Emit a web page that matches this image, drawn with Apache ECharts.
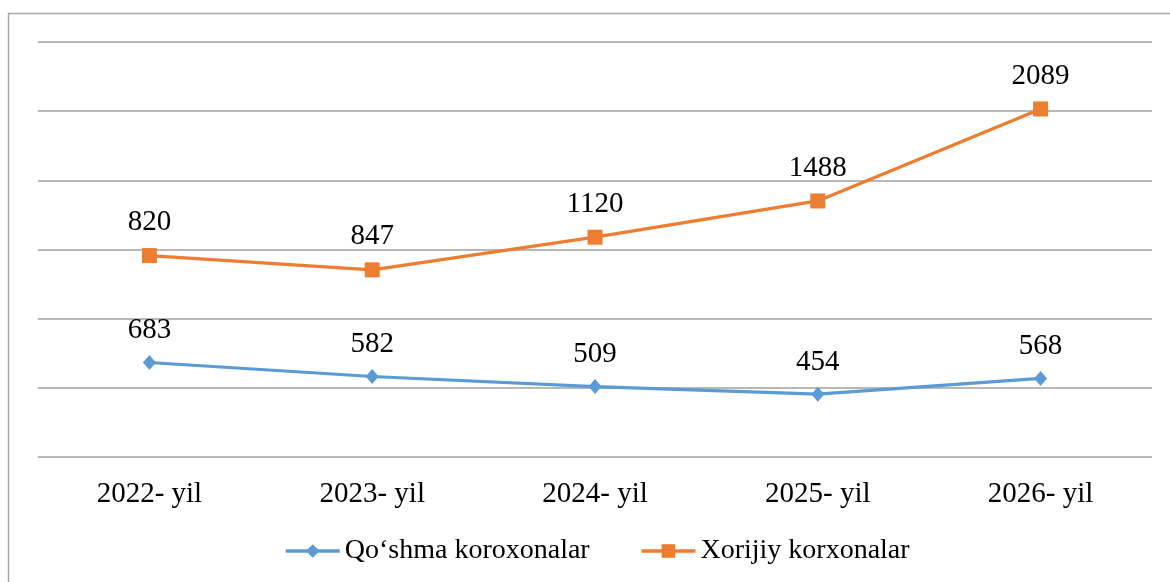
<!DOCTYPE html>
<html>
<head>
<meta charset="utf-8">
<script src="https://cdn.jsdelivr.net/npm/echarts@6/dist/echarts.min.js"></script>
<style>
html,body{margin:0;padding:0;background:#fff;}
#chart{width:1170px;height:582px;}
</style>
</head>
<body>
<div id="chart"></div>
<script>
// Categories
const categories = ['2022- yil', '2023- yil', '2024- yil', '2025- yil', '2026- yil'];
// Series 1: Qo‘shma koroxonalar (labels match plotted positions)
const qoshmaValues = [683, 582, 509, 454, 568];
// Series 2: Xorijiy korxonalar — printed labels
const xorijiyLabels = [820, 847, 1120, 1488, 2089];
const xorijiyPlotted = [1456, 1353, 1589, 1851, 2516];
// Axis range
const yMin = 0, yMax = 3000, yInterval = 500;

const font = '"Liberation Serif", "Times New Roman", serif';
const chart = echarts.init(document.getElementById('chart'));
chart.setOption({
  animation: false,
  backgroundColor: '#ffffff',
  graphic: [{
    type: 'rect',
    shape: { x: 8.5, y: 13.5, width: 1300, height: 700 },
    style: { fill: 'none', stroke: '#a6a6a6', lineWidth: 1.5 },
    z: -10
  }],
  grid: { left: 38, right: 18, top: 42, bottom: 125, containLabel: false },
  legend: {
    left: 279, top: 532,
    itemWidth: 54, itemHeight: 17, itemGap: 50,
    lineStyle: { width: 3.5 },
    textStyle: { fontFamily: font, fontSize: 28, color: '#000' },
    data: ['Qo‘shma koroxonalar', 'Xorijiy korxonalar']
  },
  xAxis: {
    type: 'category',
    data: categories,
    boundaryGap: true,
    axisLine: { show: false },
    axisTick: { show: false },
    axisLabel: { margin: 23, fontFamily: font, fontSize: 29, color: '#000' }
  },
  yAxis: {
    type: 'value',
    min: yMin, max: yMax, interval: yInterval,
    axisLine: { show: false },
    axisTick: { show: false },
    axisLabel: { show: false },
    splitLine: { show: true, lineStyle: { color: '#a0a0a0', width: 1.5 } }
  },
  series: [
    {
      name: 'Qo‘shma koroxonalar',
      type: 'line',
      data: qoshmaValues,
      color: '#5b9bd5',
      lineStyle: { width: 3.2, color: '#5b9bd5' },
      symbol: 'diamond',
      symbolSize: [13, 15],
      itemStyle: { color: '#5b9bd5' },
      label: {
        show: true, position: 'top', distance: 10,
        fontFamily: font, fontSize: 29, color: '#000',
        formatter: p => String(qoshmaValues[p.dataIndex])
      }
    },
    {
      name: 'Xorijiy korxonalar',
      type: 'line',
      data: xorijiyPlotted,
      color: '#ed7d31',
      lineStyle: { width: 3.2, color: '#ed7d31' },
      symbol: 'rect',
      symbolSize: 15,
      itemStyle: { color: '#ed7d31' },
      label: {
        show: true, position: 'top', distance: 11,
        fontFamily: font, fontSize: 29, color: '#000',
        formatter: p => String(xorijiyLabels[p.dataIndex])
      }
    }
  ]
});
</script>
</body>
</html>
